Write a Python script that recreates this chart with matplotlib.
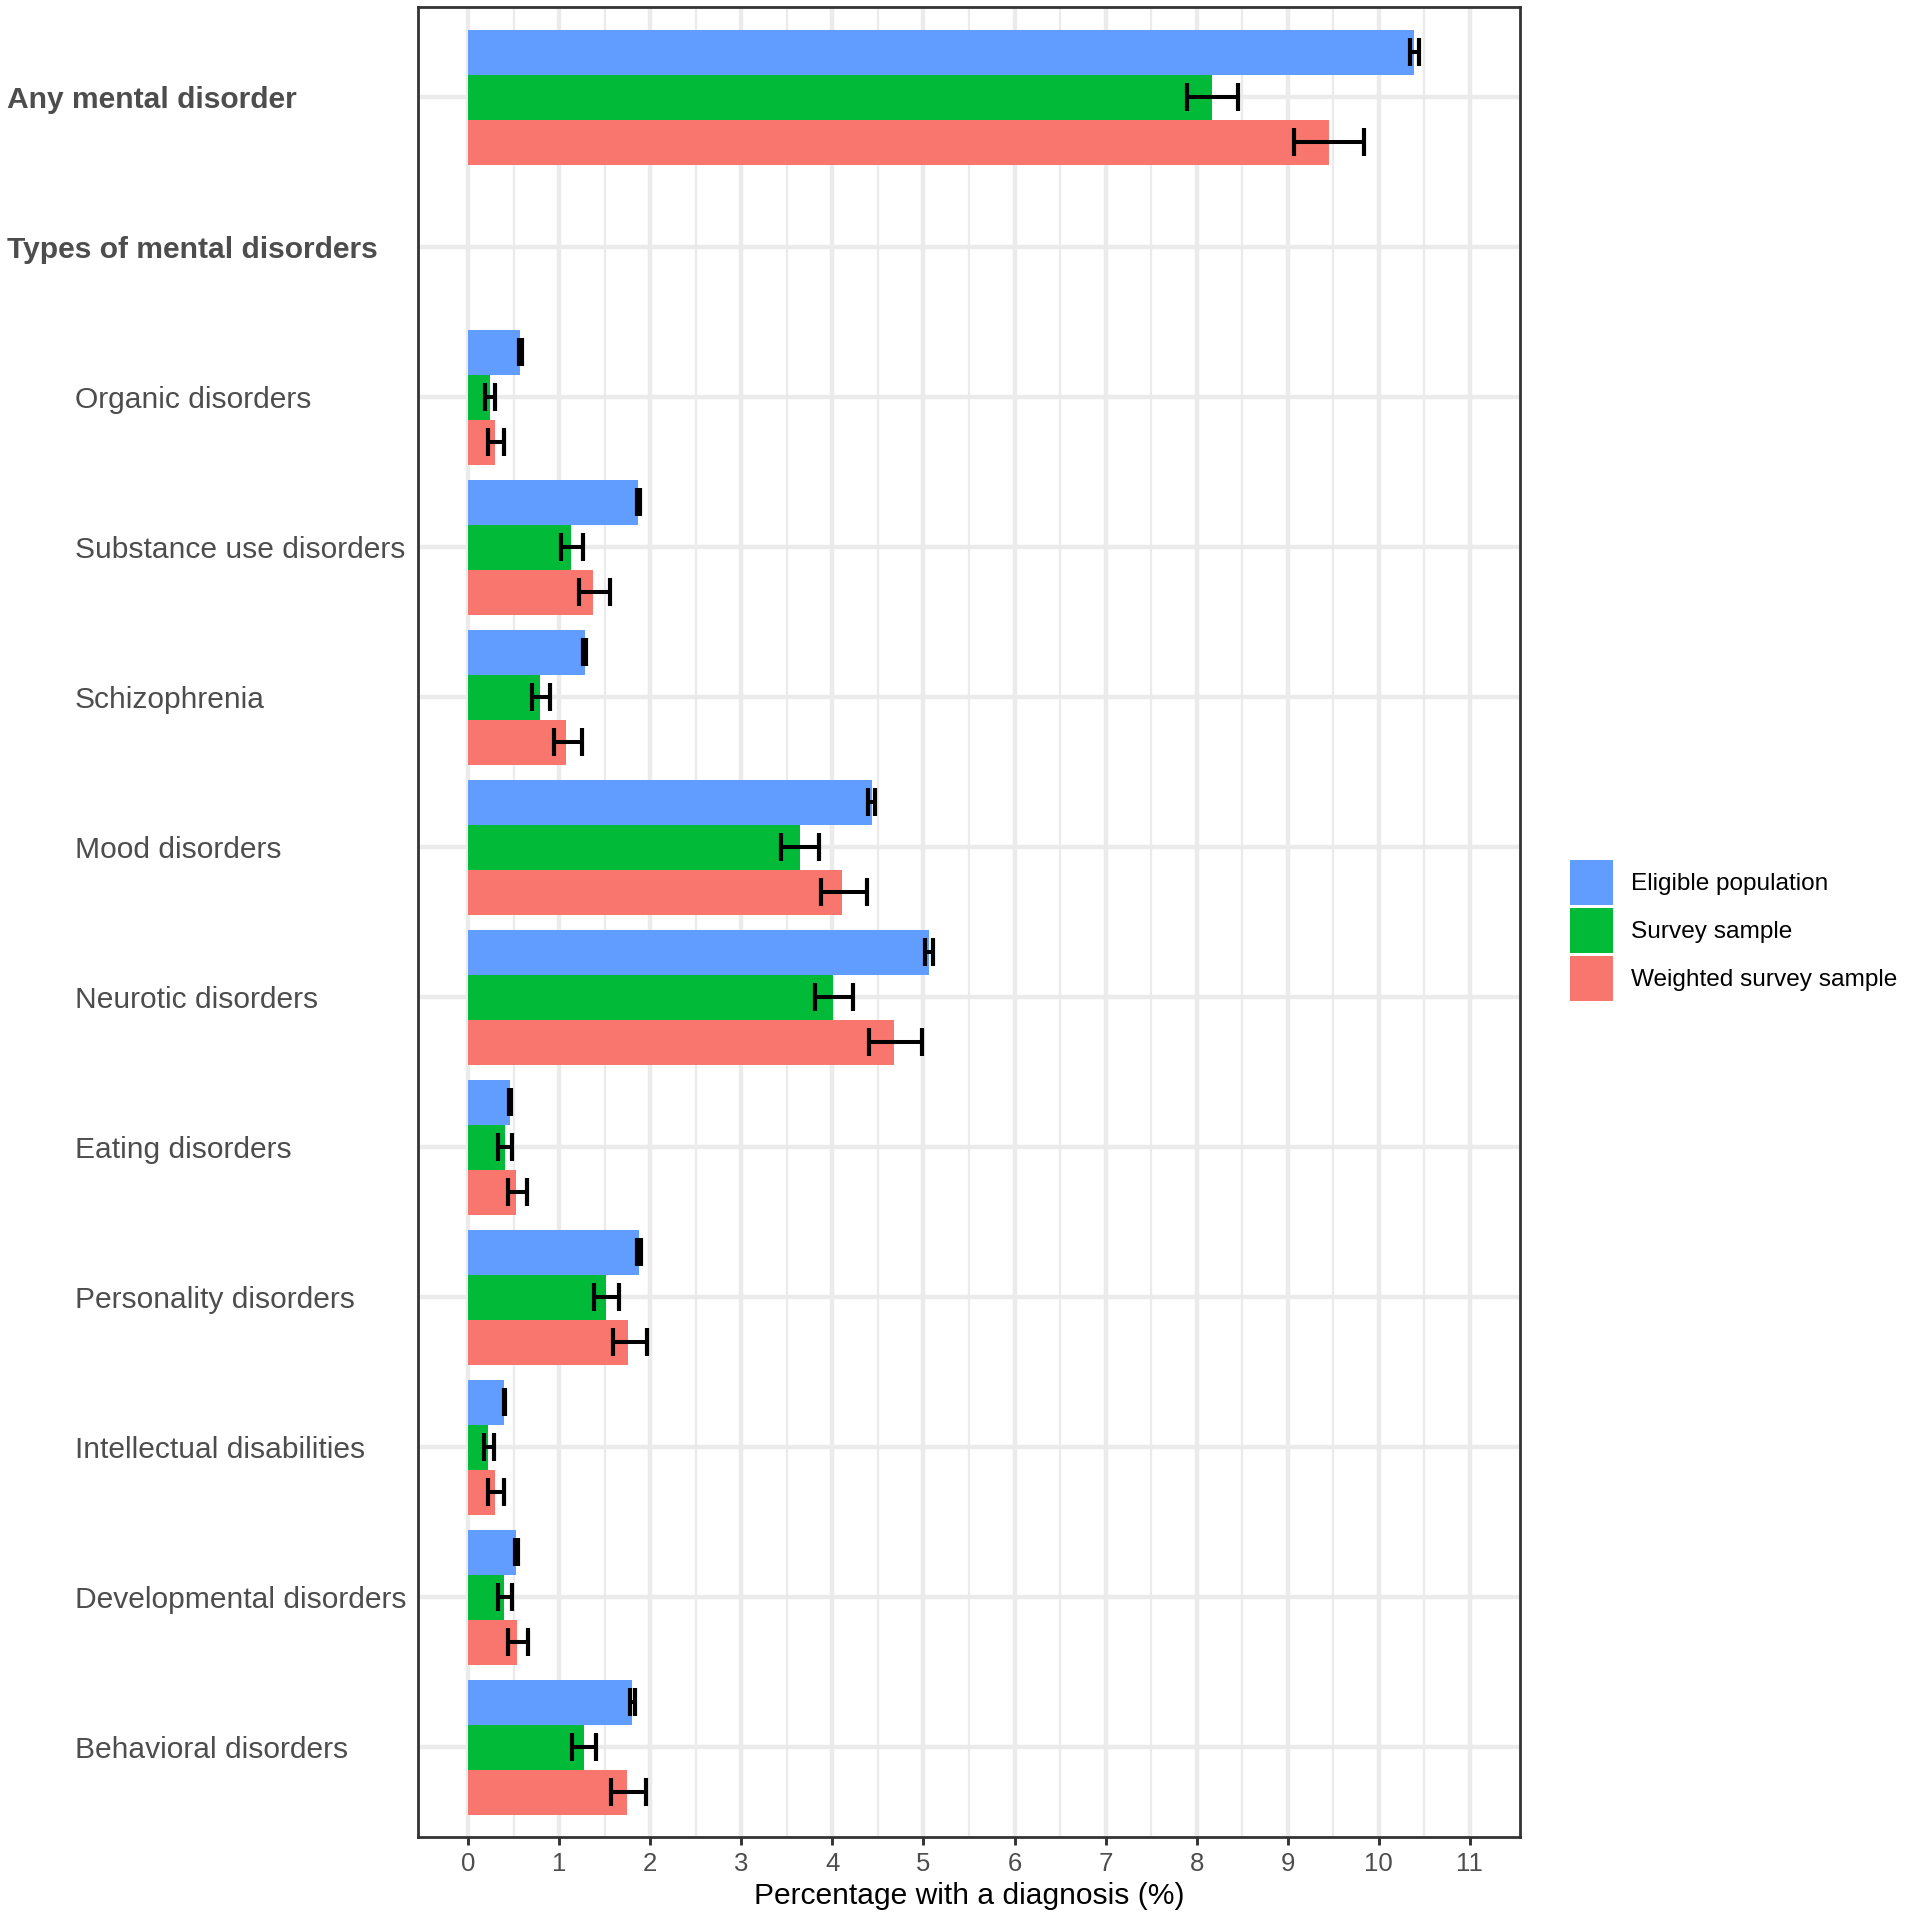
import matplotlib.pyplot as plt
import numpy as np
from matplotlib.patches import Patch
from matplotlib.transforms import blended_transform_factory

plt.rcParams['font.family'] = ['Liberation Sans', 'DejaVu Sans']

# Rows, top to bottom ("Types of mental disorders" is an empty header row)
categories = ['Any mental disorder', 'Types of mental disorders', 'Organic disorders',
              'Substance use disorders', 'Schizophrenia', 'Mood disorders',
              'Neurotic disorders', 'Eating disorders', 'Personality disorders',
              'Intellectual disabilities', 'Developmental disorders', 'Behavioral disorders']
bold_rows = ['Any mental disorder', 'Types of mental disorders']
series = ['Eligible population', 'Survey sample', 'Weighted survey sample']
colors = ['#619CFF', '#00BA38', '#F8766D']

# Percentages with 95% CI (nan for the header row)
eligible = [10.39, np.nan, 0.57, 1.87, 1.28, 4.43, 5.06, 0.46, 1.88, 0.40, 0.53, 1.80]
eligible_lo = [10.34, np.nan, 0.56, 1.85, 1.26, 4.39, 5.02, 0.45, 1.86, 0.39, 0.52, 1.78]
eligible_hi = [10.44, np.nan, 0.59, 1.89, 1.30, 4.47, 5.10, 0.47, 1.90, 0.41, 0.55, 1.83]

survey = [8.17, np.nan, 0.24, 1.13, 0.79, 3.64, 4.01, 0.41, 1.51, 0.22, 0.40, 1.27]
survey_lo = [7.89, np.nan, 0.19, 1.02, 0.70, 3.44, 3.81, 0.33, 1.38, 0.17, 0.33, 1.14]
survey_hi = [8.45, np.nan, 0.30, 1.26, 0.90, 3.85, 4.23, 0.48, 1.66, 0.28, 0.48, 1.40]

weighted = [9.45, np.nan, 0.30, 1.37, 1.08, 4.11, 4.68, 0.53, 1.76, 0.30, 0.54, 1.74]
weighted_lo = [9.07, np.nan, 0.22, 1.22, 0.94, 3.87, 4.40, 0.44, 1.59, 0.22, 0.44, 1.57]
weighted_hi = [9.84, np.nan, 0.39, 1.56, 1.25, 4.38, 4.98, 0.65, 1.96, 0.40, 0.66, 1.95]

x_ticks = list(range(0, 12))


def main():
    fig = plt.figure(figsize=(19.05, 19.2), dpi=100)
    ax = fig.add_axes([0.2194, 0.0430, 0.5785, 0.9531])

    y = np.arange(len(categories))
    bar_h = 0.3
    data = [(eligible, eligible_lo, eligible_hi),
            (survey, survey_lo, survey_hi),
            (weighted, weighted_lo, weighted_hi)]

    for i, (vals, lo, hi) in enumerate(data):
        vals = np.array(vals, dtype=float)
        lo = np.array(lo, dtype=float)
        hi = np.array(hi, dtype=float)
        pos = y + (i - 1) * bar_h
        ax.barh(pos, vals, height=bar_h, color=colors[i], edgecolor='none', zorder=2)
        ok = ~np.isnan(vals)
        ax.errorbar(vals[ok], pos[ok], xerr=[vals[ok] - lo[ok], hi[ok] - vals[ok]],
                    fmt='none', ecolor='black', elinewidth=2.9, capsize=9.8,
                    capthick=3.0, zorder=3)

    ax.set_xlim(-0.55, 11.55)
    ax.set_ylim(len(categories) - 1 + 0.6, -0.6)

    ax.set_xticks(x_ticks)
    ax.set_xticks(np.arange(0.5, 11.5, 1.0), minor=True)
    ax.set_yticks(y)
    ax.set_yticklabels([])
    ax.tick_params(axis='y', length=0)
    ax.tick_params(axis='x', which='major', length=5.8, width=2.1, color='#333333',
                   labelsize=18.5, labelcolor='#4D4D4D', pad=5)
    ax.tick_params(axis='x', which='minor', length=0)

    ax.grid(True, which='major', color='#EBEBEB', linewidth=3.2)
    ax.grid(True, which='minor', axis='x', color='#EBEBEB', linewidth=1.6)
    ax.set_axisbelow(True)

    for sp in ax.spines.values():
        sp.set_color('#333333')
        sp.set_linewidth(2.0)

    ax.set_xlabel('Percentage with a diagnosis (%)', fontsize=21.6, color='black', labelpad=4)

    # left-aligned row labels, header rows in bold, the rest indented
    trans = blended_transform_factory(fig.transFigure, ax.transData)
    for yi, name in zip(y, categories):
        if name in bold_rows:
            ax.text(7 / 1905, yi, name, transform=trans, ha='left', va='center_baseline',
                    fontsize=21.6, fontweight='bold', color='#4D4D4D')
        else:
            ax.text(75 / 1905, yi, name, transform=trans, ha='left', va='center_baseline',
                    fontsize=21.6, color='#4D4D4D')

    handles = [Patch(facecolor=c, edgecolor='none', label=s) for c, s in zip(colors, series)]
    fig.legend(handles=handles, loc='center left', bbox_to_anchor=(1570 / 1905, 0.5153),
               frameon=False, fontsize=17.6, handlelength=1.76, handleheight=2.45,
               handletextpad=0.75, labelspacing=0.12, borderpad=0, borderaxespad=0)

    plt.savefig('out.png', dpi=100)
    plt.close()


if __name__ == "__main__":
    main()
